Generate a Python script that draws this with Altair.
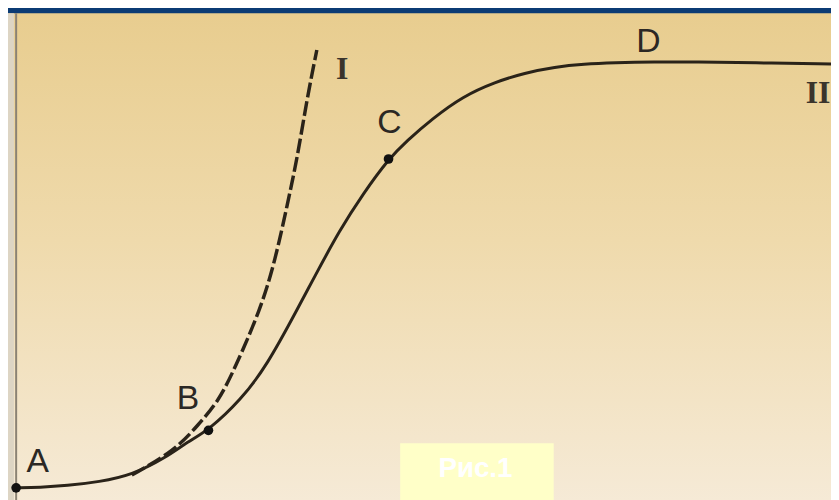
import altair as alt
import pandas as pd

# ---- data (arbitrary units: x = time 0..100, y = 0..100 plateau) ----
solid_x = [0, 2.9, 6.2, 10.2, 14.2, 18.3, 21.1, 23.6, 27.6, 30.8, 34.5, 36.6, 39.7, 42.6,
           45.7, 47.9, 51.1, 54.8, 58.8, 62.4, 66.1, 69.7, 73.4, 78.2, 83.5, 90.4, 100.0]
solid_y = [0, 0.1, 0.5, 1.4, 3.0, 7.0, 10.9, 13.5, 20.7, 28.8, 41.9, 49.5, 60.5, 69.1,
           77.2, 81.4, 86.7, 91.9, 95.3, 97.4, 98.8, 99.5, 99.8, 100.0, 100.0, 99.8, 99.5]
dashed_x = [14.2, 19.5, 22.3, 24.8, 26.8, 30.0, 31.8, 33.3, 34.5, 35.7, 36.9]
dashed_y = [3.0, 8.8, 14.7, 20.2, 27.9, 41.9, 53.5, 66.7, 77.4, 91.4, 102.8]

point_names = ["A", "B", "C"]
point_x = [0, 23.6, 45.7]
point_y = [0, 13.5, 77.2]

letter_names = ["A", "B", "C", "D"]
letter_x = [2.65, 21.1, 45.8, 77.6]
letter_y = [6.0, 20.9, 85.6, 104.7]

roman_names = ["I", "II"]
roman_x = [40.0, 98.4]
roman_y = [98.4, 92.6]

caption = "Рис.1"

# ---- tables ----
solid = pd.DataFrame({"x": solid_x, "y": solid_y})
dashed = pd.DataFrame({"x": dashed_x, "y": dashed_y})
points = pd.DataFrame({"name": point_names, "x": point_x, "y": point_y})
letters = pd.DataFrame({"name": letter_names, "x": letter_x, "y": letter_y})
romans = pd.DataFrame({"name": roman_names, "x": roman_x, "y": roman_y})
axis_df = pd.DataFrame({"x": [0]})
dummy = alt.Data(values=[{}])

W, H = 831, 492
xs = alt.Scale(domain=[-1, 100], nice=False, zero=False)
ys = alt.Scale(domain=[-2.3, 112.1], nice=False, zero=False)
X = lambda: alt.X("x:Q", scale=xs, axis=None)
Y = lambda: alt.Y("y:Q", scale=ys, axis=None)

ink = "#2a2319"

panel = alt.Chart(dummy).mark_rect(
    color=alt.LinearGradient(
        gradient="linear",
        stops=[alt.GradientStop(color="#e8cd8f", offset=0),
               alt.GradientStop(color="#efdaac", offset=0.45),
               alt.GradientStop(color="#f6ebd9", offset=1)],
        x1=0, x2=0, y1=0, y2=1)
).encode(x=alt.value(0), x2=alt.value(W + 20), y=alt.value(3), y2=alt.value(H + 20))

edge = alt.Chart(dummy).mark_rect(color="#ddd5c4").encode(
    x=alt.value(0), x2=alt.value(6), y=alt.value(3), y2=alt.value(H + 20))

axis_line = alt.Chart(axis_df).mark_rule(color="#8a8274", strokeWidth=2).encode(
    x=X(), y=alt.value(3), y2=alt.value(H + 20))

solid_line = alt.Chart(solid).mark_line(
    color=ink, strokeWidth=3, interpolate="basis").encode(x=X(), y=Y())

dashed_line = alt.Chart(dashed).mark_line(
    color=ink, strokeWidth=3.5, strokeDash=[15, 4], interpolate="basis").encode(x=X(), y=Y())

dots = alt.Chart(points).mark_circle(color="#111111", size=95, opacity=1).encode(x=X(), y=Y())

letter_text = alt.Chart(letters).mark_text(
    font="Liberation Sans", fontSize=34, color="#2b2824", align="center", baseline="middle"
).encode(x=X(), y=Y(), text="name:N")

roman_text = alt.Chart(romans).mark_text(
    font="Liberation Serif", fontSize=32, fontWeight="bold", color="#3a342c",
    align="center", baseline="middle"
).encode(x=X(), y=Y(), text="name:N")

box = alt.Chart(dummy).mark_rect(color="#ffffc8").encode(
    x=alt.value(396), x2=alt.value(551), y=alt.value(437), y2=alt.value(H + 20))

cap = alt.Chart(alt.Data(values=[{"t": caption}])).mark_text(
    font="Liberation Sans", fontSize=28, fontWeight="bold", color="#ffffff",
    align="center", baseline="middle"
).encode(x=alt.value(472), y=alt.value(463), text="t:N")

chart = alt.layer(
    panel, edge, axis_line, dashed_line, solid_line, dots, letter_text, roman_text, box, cap
).properties(
    width=W, height=H,
    autosize=alt.AutoSizeParams(type="none"),
    padding={"left": 0, "top": 0, "right": 0, "bottom": 0},
    background="#0b3b74",
).configure_view(stroke=None)

chart.save("out.html", embed_options={"renderer": "svg", "actions": False})
